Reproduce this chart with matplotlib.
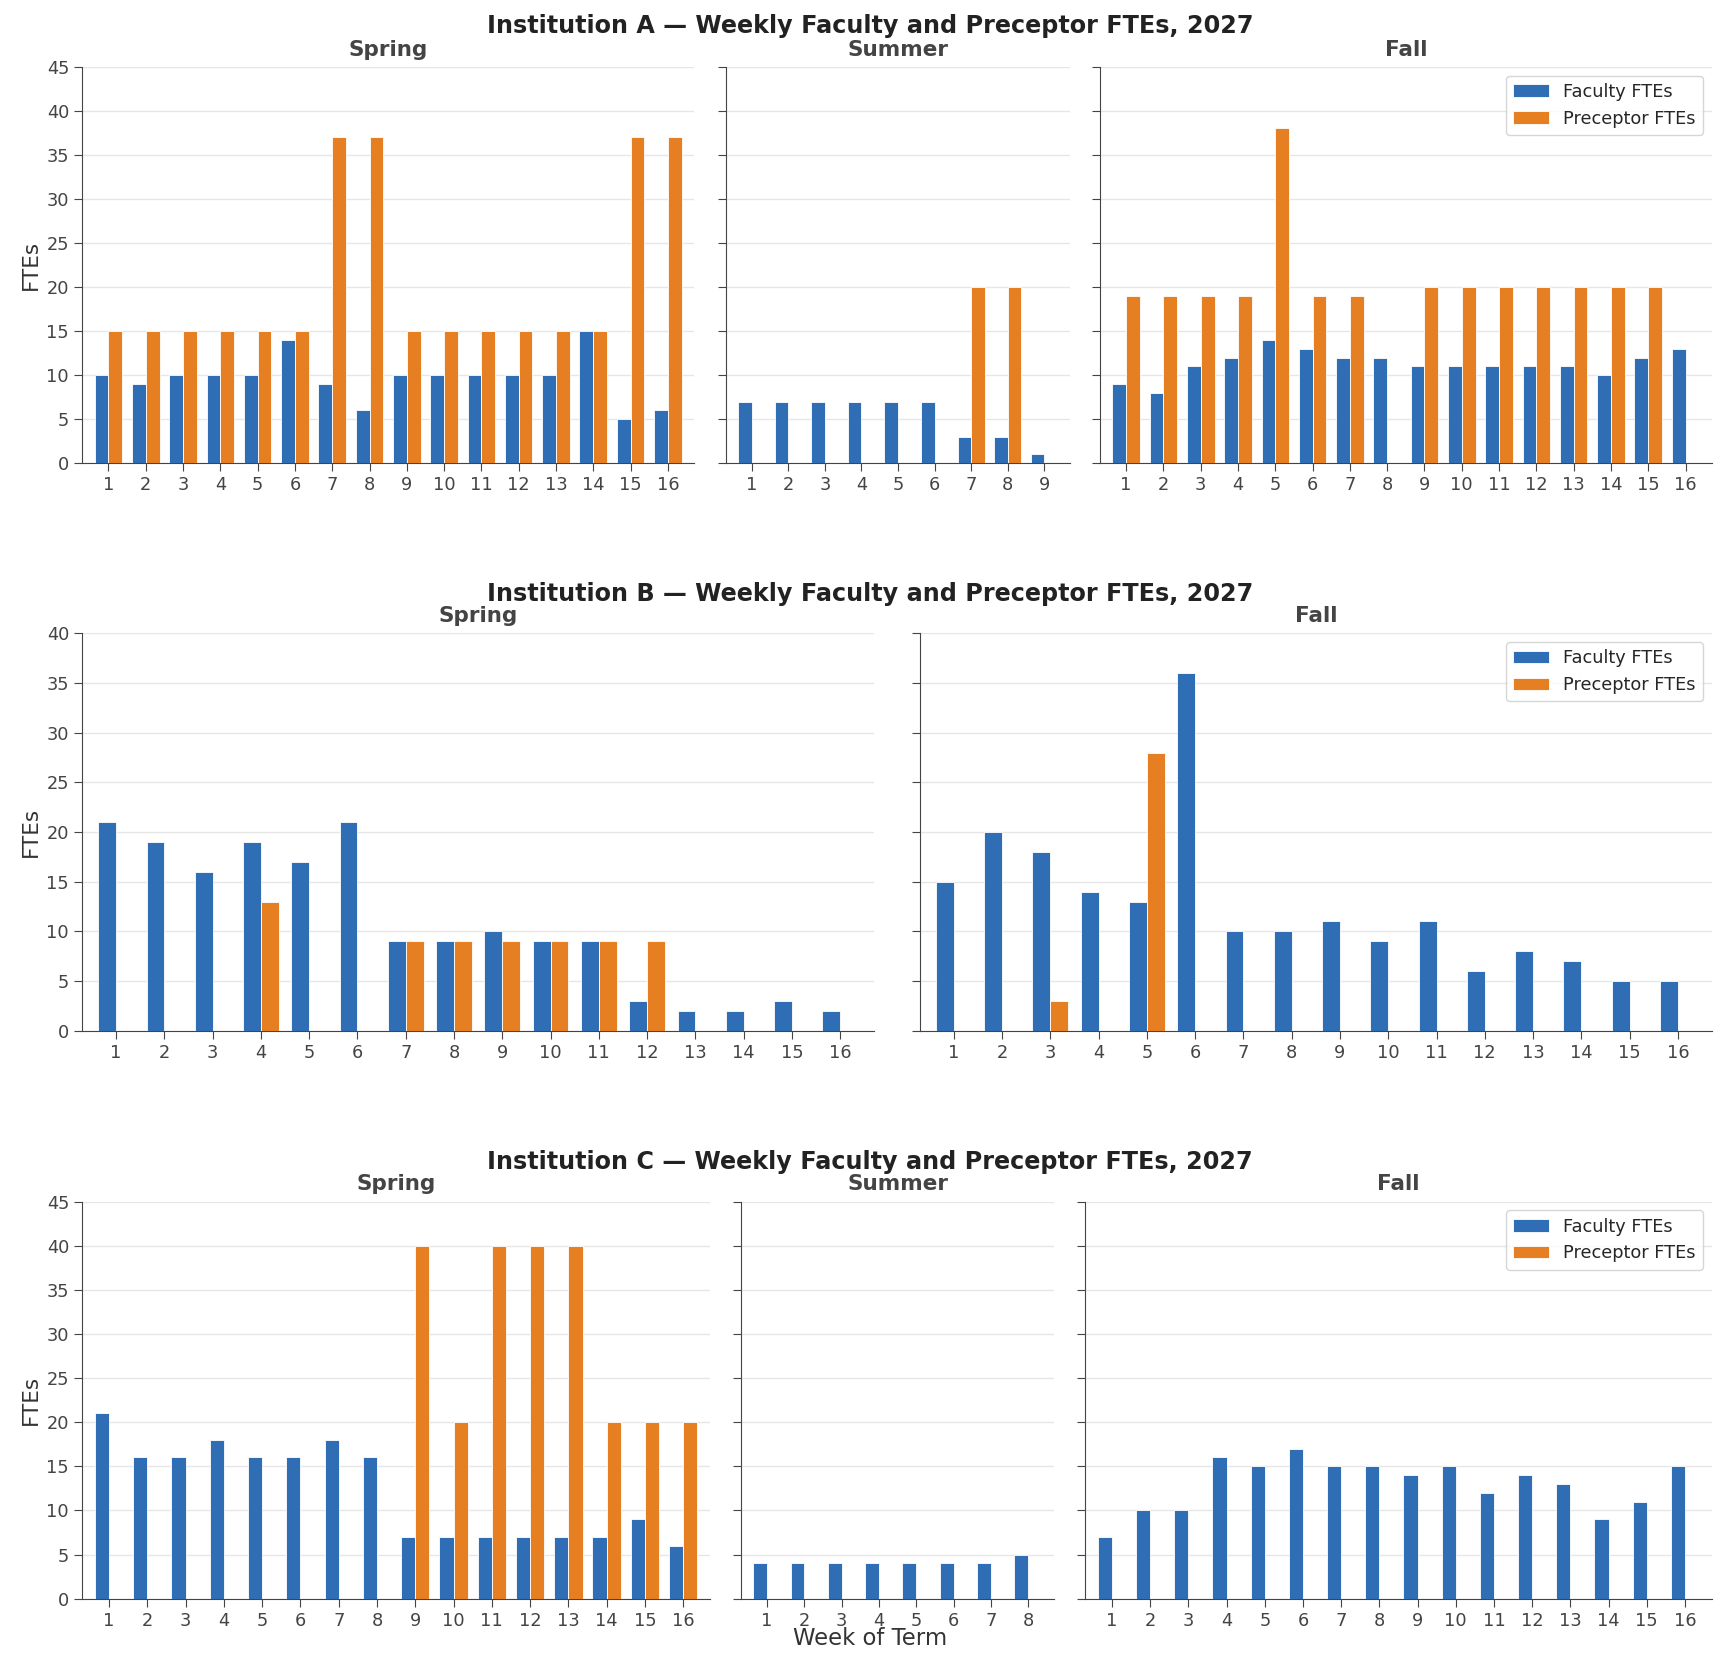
import numpy as np
import matplotlib
matplotlib.use("Agg")
import matplotlib.pyplot as plt
import seaborn as sns

# ---- data ----
a_spring_fac = [10, 9, 10, 10, 10, 14, 9, 6, 10, 10, 10, 10, 10, 15, 5, 6]
a_spring_pre = [15, 15, 15, 15, 15, 15, 37, 37, 15, 15, 15, 15, 15, 15, 37, 37]
a_summer_fac = [7, 7, 7, 7, 7, 7, 3, 3, 1]
a_summer_pre = [0, 0, 0, 0, 0, 0, 20, 20, 0]
a_fall_fac = [9, 8, 11, 12, 14, 13, 12, 12, 11, 11, 11, 11, 11, 10, 12, 13]
a_fall_pre = [19, 19, 19, 19, 38, 19, 19, 0, 20, 20, 20, 20, 20, 20, 20, 0]

b_spring_fac = [21, 19, 16, 19, 17, 21, 9, 9, 10, 9, 9, 3, 2, 2, 3, 2]
b_spring_pre = [0, 0, 0, 13, 0, 0, 9, 9, 9, 9, 9, 9, 0, 0, 0, 0]
b_fall_fac = [15, 20, 18, 14, 13, 36, 10, 10, 11, 9, 11, 6, 8, 7, 5, 5]
b_fall_pre = [0, 0, 3, 0, 28, 0, 0, 0, 0, 0, 0, 0, 0, 0, 0, 0]

c_spring_fac = [21, 16, 16, 18, 16, 16, 18, 16, 7, 7, 7, 7, 7, 7, 9, 6]
c_spring_pre = [0, 0, 0, 0, 0, 0, 0, 0, 40, 20, 40, 40, 40, 20, 20, 20]
c_summer_fac = [4, 4, 4, 4, 4, 4, 4, 5]
c_summer_pre = [0, 0, 0, 0, 0, 0, 0, 0]
c_fall_fac = [7, 10, 10, 16, 15, 17, 15, 15, 14, 15, 12, 14, 13, 9, 11, 15]
c_fall_pre = [0] * 16

institutions = ["A", "B", "C"]
terms = {
    "A": [("Spring", a_spring_fac, a_spring_pre),
          ("Summer", a_summer_fac, a_summer_pre),
          ("Fall", a_fall_fac, a_fall_pre)],
    "B": [("Spring", b_spring_fac, b_spring_pre),
          ("Fall", b_fall_fac, b_fall_pre)],
    "C": [("Spring", c_spring_fac, c_spring_pre),
          ("Summer", c_summer_fac, c_summer_pre),
          ("Fall", c_fall_fac, c_fall_pre)],
}
y_max = {"A": 45, "B": 40, "C": 45}

FAC_COLOR = "#2f6eb5"
PRE_COLOR = "#e67e22"

# axes boxes in pixels: (left, right) per term, (top, bottom) per row
W, H = 1726, 1667
row_tb = {"A": (66.7, 463.3), "B": (633.3, 1030.7), "C": (1201.5, 1598.7)}
row_lr = {
    "A": [(82.3, 694), (726, 1070), (1100, 1711.7)],
    "B": [(82.3, 874), (920, 1711.7)],
    "C": [(82.3, 710), (741, 1054.3), (1085.3, 1711.7)],
}
sup_y = {"A": 26.2, "B": 594.2, "C": 1162.2}

sns.set_style("ticks")
plt.rcParams["font.family"] = ["DejaVu Sans"]
plt.rcParams["axes.edgecolor"] = "#444444"
plt.rcParams["xtick.color"] = "#444444"
plt.rcParams["ytick.color"] = "#444444"

fig = plt.figure(figsize=(W / 100, H / 100), dpi=100)

bar_w = 0.37
for inst in institutions:
    top, bot = row_tb[inst]
    first_ax = None
    for i, ((term, fac, pre), (l, r)) in enumerate(zip(terms[inst], row_lr[inst])):
        rect = [l / W, 1 - bot / H, (r - l) / W, (bot - top) / H]
        ax = fig.add_axes(rect, sharey=first_ax)
        if first_ax is None:
            first_ax = ax
        weeks = np.arange(1, len(fac) + 1)
        ax.bar(weeks - bar_w / 2, fac, width=bar_w, color=FAC_COLOR,
               edgecolor="white", linewidth=0.6, label="Faculty FTEs", zorder=3)
        ax.bar(weeks + bar_w / 2, pre, width=bar_w, color=PRE_COLOR,
               edgecolor="white", linewidth=0.6, label="Preceptor FTEs", zorder=3)
        ax.set_xticks(weeks)
        ax.set_xlim(0.3, len(fac) + 0.7)
        ax.set_ylim(0, y_max[inst])
        ax.set_yticks(np.arange(0, y_max[inst] + 1, 5))
        ax.grid(axis="y", color="#e6e6e6", linewidth=1.0, zorder=0)
        ax.tick_params(axis="both", labelsize=12.8, length=6, labelcolor="#444444")
        ax.set_title(term, fontsize=15.5, fontweight="bold", color="#444444", pad=8)
        sns.despine(ax=ax)
        if i == 0:
            ax.set_ylabel("FTEs", fontsize=15.5, color="#333333")
        else:
            ax.tick_params(axis="y", labelleft=False)
        if i == len(terms[inst]) - 1:
            ax.legend(loc="upper right", fontsize=12.8, frameon=True,
                      edgecolor="#cccccc", fancybox=True)
    fig.text(0.504, 1 - sup_y[inst] / H,
             f"Institution {inst} \u2014 Weekly Faculty and Preceptor FTEs, 2027",
             ha="center", va="center", fontsize=17.2, fontweight="bold", color="#222222")

fig.text(869.6 / W, 1 - 1638 / H, "Week of Term", ha="center", va="center",
         fontsize=16.4, color="#333333")

fig.savefig("out.png", dpi=100)
